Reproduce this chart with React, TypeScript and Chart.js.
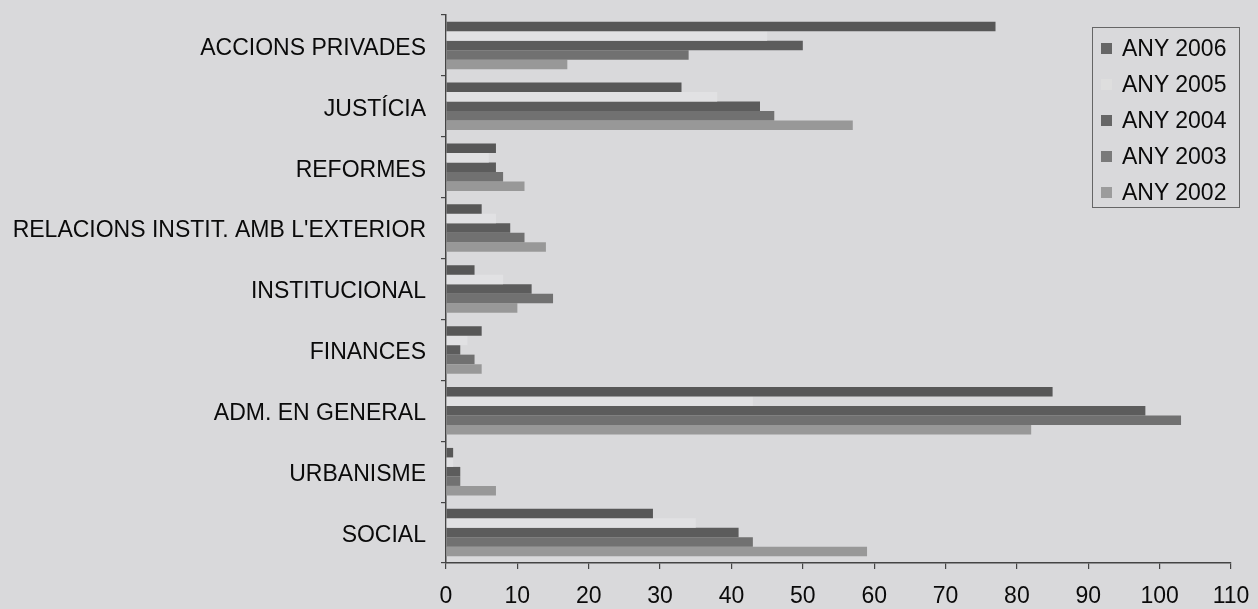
import React, { useEffect, useRef } from "react";
import { Chart, registerables } from "chart.js";

Chart.register(...registerables);

const categories = [
  "ACCIONS PRIVADES",
  "JUSTÍCIA",
  "REFORMES",
  "RELACIONS INSTIT. AMB L'EXTERIOR",
  "INSTITUCIONAL",
  "FINANCES",
  "ADM. EN GENERAL",
  "URBANISME",
  "SOCIAL",
];

const seriesNames = ["ANY 2006", "ANY 2005", "ANY 2004", "ANY 2003", "ANY 2002"];

const any2006 = [77, 33, 7, 5, 4, 5, 85, 1, 29];
const any2005 = [45, 38, 6, 7, 8, 3, 43, 1, 35];
const any2004 = [50, 44, 7, 9, 12, 2, 98, 2, 41];
const any2003 = [34, 46, 8, 11, 15, 4, 103, 2, 43];
const any2002 = [17, 57, 11, 14, 10, 5, 82, 7, 59];

const xTickValues = [0, 10, 20, 30, 40, 50, 60, 70, 80, 90, 100, 110];

const seriesColors = ["#575757", "#e1e1e3", "#5c5c5c", "#717171", "#989898"];
const legendColors = ["#666666", "#dedede", "#666666", "#7a7a7a", "#9c9c9c"];

const FONT = "'Liberation Sans', Arial, sans-serif";

export default function App() {
  const canvasRef = useRef<HTMLCanvasElement | null>(null);

  useEffect(() => {
    const canvas = canvasRef.current;
    if (!canvas) return;
    const values = [any2006, any2005, any2004, any2003, any2002];
    const chart = new Chart(canvas, {
      type: "bar",
      data: {
        labels: categories,
        datasets: seriesNames.map((name, i) => ({
          label: name,
          data: values[i],
          backgroundColor: seriesColors[i],
          borderWidth: 0,
          categoryPercentage: 0.78,
          barPercentage: 1.0,
        })),
      },
      options: {
        indexAxis: "y",
        animation: false,
        responsive: false,
        devicePixelRatio: 1,
        layout: { padding: { top: 15, right: 27, left: 0, bottom: 0 } },
        plugins: {
          legend: { display: false },
          tooltip: { enabled: false },
        },
        scales: {
          x: {
            type: "linear",
            min: 0,
            max: 110,
            afterBuildTicks: (scale: any) => {
              scale.ticks = xTickValues.map((v) => ({ value: v }));
            },
            afterFit: (scale: any) => {
              scale.height = 46;
              scale.paddingLeft = 0;
              scale.paddingRight = 0;
            },
            ticks: {
              color: "#0a0a0a",
              font: { family: FONT, size: 23 },
              padding: 14,
              maxRotation: 0,
              autoSkip: false,
            },
            grid: {
              display: true,
              drawOnChartArea: false,
              drawTicks: true,
              tickLength: 6,
              color: "#444444",
              lineWidth: 1.2,
            },
            border: { display: true, color: "#444444", width: 1.5 },
          },
          y: {
            type: "category",
            afterFit: (scale: any) => {
              scale.width = 446;
              scale.paddingTop = 0;
              scale.paddingBottom = 0;
            },
            ticks: {
              color: "#0a0a0a",
              font: { family: FONT, size: 23 },
              padding: 15,
              labelOffset: 3,
              autoSkip: false,
            },
            grid: {
              display: true,
              offset: true,
              drawOnChartArea: false,
              drawTicks: true,
              tickLength: 5,
              color: "#444444",
              lineWidth: 1.2,
            },
            border: { display: true, color: "#444444", width: 1.5 },
          },
        },
      },
    });
    return () => chart.destroy();
  }, []);

  return (
    <div
      style={{
        position: "fixed",
        left: 0,
        top: 0,
        width: 1258,
        height: 609,
        background: "#d9d9db",
        overflow: "hidden",
        fontFamily: FONT,
      }}
    >
      <canvas
        ref={canvasRef}
        width={1258}
        height={609}
        style={{ position: "absolute", left: 0, top: 0, width: 1258, height: 609 }}
      />
      <div
        style={{
          position: "absolute",
          left: 1092,
          top: 27,
          width: 148,
          height: 181,
          border: "1.5px solid #666666",
          boxSizing: "border-box",
        }}
      >
        {seriesNames.map((name, i) => (
          <div
            key={name}
            style={{
              position: "absolute",
              left: 0,
              top: 2 + i * 36,
              height: 36,
              display: "flex",
              alignItems: "center",
            }}
          >
            <div
              style={{
                width: 11,
                height: 11,
                marginLeft: 8,
                background: legendColors[i],
              }}
            />
            <span
              style={{
                marginLeft: 10,
                fontSize: 23,
                color: "#0a0a0a",
                whiteSpace: "nowrap",
                lineHeight: "36px",
              }}
            >
              {name}
            </span>
          </div>
        ))}
      </div>
    </div>
  );
}
